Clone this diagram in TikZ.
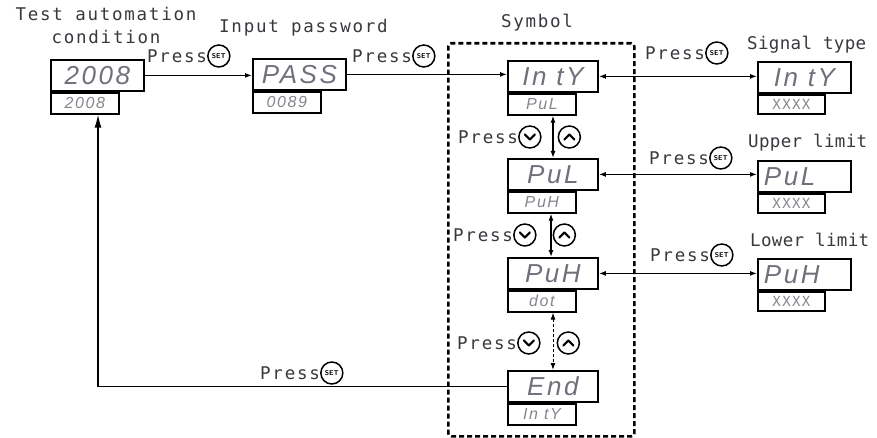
\documentclass[tikz,border=0pt]{standalone}
\usepackage{fontspec}
\usetikzlibrary{arrows.meta,positioning}
\newfontfamily\labelfont{DejaVu Sans Mono}[LetterSpace=10]
\newfontfamily\narrowlabelfont{DejaVu Sans Mono}[LetterSpace=2]
\newfontfamily\lcdfont{Liberation Sans}[LetterSpace=10]
\definecolor{inkGray}{HTML}{38383E}
\definecolor{lcdGray}{HTML}{70707A}

\begin{document}
\begin{tikzpicture}[x=1pt,y=-1pt,
  lbl/.style={font=\labelfont\fontsize{17.5}{23}\selectfont,text=inkGray,inner sep=0pt},
  rlbl/.style={lbl,font=\narrowlabelfont\fontsize{17.5}{23}\selectfont},
  mainbox/.style={draw,line width=1.8pt,anchor=north west,minimum width=90pt,minimum height=31pt,inner sep=0pt,
    font=\lcdfont\itshape\fontsize{26}{26}\selectfont,text=lcdGray},
  rbox/.style={mainbox,inner xsep=6pt,text width=81pt,align=left},
  subbox/.style={draw,line width=1.8pt,anchor=north west,minimum width=68pt,minimum height=21pt,inner sep=0pt,
    font=\lcdfont\itshape\fontsize{16}{16}\selectfont,text=lcdGray!85},
  xbox/.style={subbox,minimum width=67pt,minimum height=19pt,font=\labelfont\fontsize{14}{14}\selectfont},
  symframe/.style={draw,line width=2.6pt,dash pattern=on 5pt off 3pt,rounded corners=3pt,anchor=north west,inner sep=0pt},
  btn/.style={circle,draw,line width=1.5pt,minimum size=22pt,inner sep=0pt},
  setbtn/.style={btn,font=\sffamily\bfseries\fontsize{7}{7}\selectfont},
  dnbtn/.style={btn,path picture={\draw[line width=2.2pt,line cap=round,line join=round]
      ([shift={(-5pt,2.5pt)}]path picture bounding box.center) -- ++(5pt,-5pt) -- ++(5pt,5pt);}},
  upbtn/.style={btn,path picture={\draw[line width=2.2pt,line cap=round,line join=round]
      ([shift={(-5pt,-2.5pt)}]path picture bounding box.center) -- ++(5pt,5pt) -- ++(5pt,-5pt);}},
  conn/.style={line width=1.3pt,-{Latex[length=7pt,width=5pt]}},
  dbl/.style={line width=1.3pt,{Latex[length=7pt,width=5pt]}-{Latex[length=7pt,width=5pt]}},
]
\useasboundingbox (0,0) rectangle (877,438);

% symbol frame
\node[symframe,minimum width=186pt,minimum height=393pt] (frame) at (447,42) {};
\node[lbl,anchor=base] (symlbl) at (537,28) {Symbol};

% left part
\node[lbl,align=center,anchor=north] (testlbl) at (106,7) {Test automation\\condition};
\node[mainbox,minimum width=93pt] (m2008) at (50,59) {2008};
\node[subbox] (s2008) at (m2008.south west) {2008};
\node[lbl,anchor=base west] (pwlbl) at (219,33) {Input password};
\node[mainbox,minimum width=93pt] (mPass) at (252,58) {PASS};
\node[subbox] (sPass) at (mPass.south west) {0089};

% menu column
\node[mainbox] (mInty) at (507,60) {In tY};
\node[subbox] (sInty) at (mInty.south west) {PuL};
\node[mainbox] (mPul) at (507,158) {PuL};
\node[subbox] (sPul) at (mPul.south west) {PuH};
\node[mainbox] (mPuh) at (507,257) {PuH};
\node[subbox] (sPuh) at (mPuh.south west) {dot};
\node[mainbox] (mEnd) at (507,370) {End};
\node[subbox] (sEnd) at (mEnd.south west) {In tY};

% settings on the right
\node[mainbox,minimum width=93pt] (rInty) at (757,61) {In tY};
\node[xbox] (xInty) at (rInty.south west) {XXXX};
\node[rlbl,anchor=base west] (sigtype) at (747,50) {Signal type};
\node[rbox] (rPul) at (757,160) {PuL};
\node[xbox] (xPul) at (rPul.south west) {XXXX};
\node[rlbl,anchor=base west] (uplim) at (748,148) {Upper limit};
\node[rbox] (rPuh) at (757,258) {PuH};
\node[xbox] (xPuh) at (rPuh.south west) {XXXX};
\node[rlbl,anchor=base west] (lowlim) at (750,247) {Lower limit};

% connectors
\draw[conn] (m2008.east) -- (m2008.east -| mPass.west);
\draw[conn] (mPass.east) -- (mPass.east -| mInty.west);
\draw[dbl] (mInty.east) -- (mInty.east -| rInty.west);
\draw[dbl] (mPul.east) -- (mPul.east -| rPul.west);
\draw[dbl] (mPuh.east) -- (mPuh.east -| rPuh.west);
\coordinate (v1) at ([xshift=46pt]sInty.south west);
\coordinate (v2) at ([xshift=44pt]sPul.south west);
\coordinate (v3) at ([xshift=46pt]sPuh.south west);
\draw[dbl] (v1) -- (v1 |- mPul.north);
\draw[dbl] (v2) -- (v2 |- mPuh.north);
\draw[dbl,line width=1pt,dash pattern=on 3pt off 2pt] (v3) -- (v3 |- mEnd.north);
\coordinate (back) at ([xshift=48pt]s2008.south west);
\draw[line width=1.3pt,-{Latex[length=13pt,width=7pt]}] (mEnd.west) -| (back);

% press labels
\node[lbl,anchor=west] (p1) at (147,56) {Press};
\node[setbtn,right=0pt of p1] (b1) {SET};
\node[lbl,anchor=west] (p2) at (352,56) {Press};
\node[setbtn,right=0pt of p2] (b2) {SET};
\node[lbl,anchor=west] (p3) at (645,53) {Press};
\node[setbtn,right=0pt of p3] (b3) {SET};
\node[lbl,anchor=west] (p4) at (649,158) {Press};
\node[setbtn,right=0pt of p4] (b4) {SET};
\node[lbl,anchor=west] (p5) at (650,255) {Press};
\node[setbtn,right=0pt of p5] (b5) {SET};
\node[lbl,anchor=west] (p6) at (458,137) {Press};
\node[dnbtn,right=0pt of p6] (dn1) {};
\node[upbtn,right=16pt of dn1] (up1) {};
\node[lbl,anchor=west] (p7) at (453,235) {Press};
\node[dnbtn,right=0pt of p7] (dn2) {};
\node[upbtn,right=16pt of dn2] (up2) {};
\node[lbl,anchor=west] (p8) at (457,343) {Press};
\node[dnbtn,right=0pt of p8] (dn3) {};
\node[upbtn,right=16pt of dn3] (up3) {};
\node[lbl,anchor=west] (p9) at (260,373) {Press};
\node[setbtn,right=0pt of p9] (b9) {SET};
\end{tikzpicture}
\end{document}
